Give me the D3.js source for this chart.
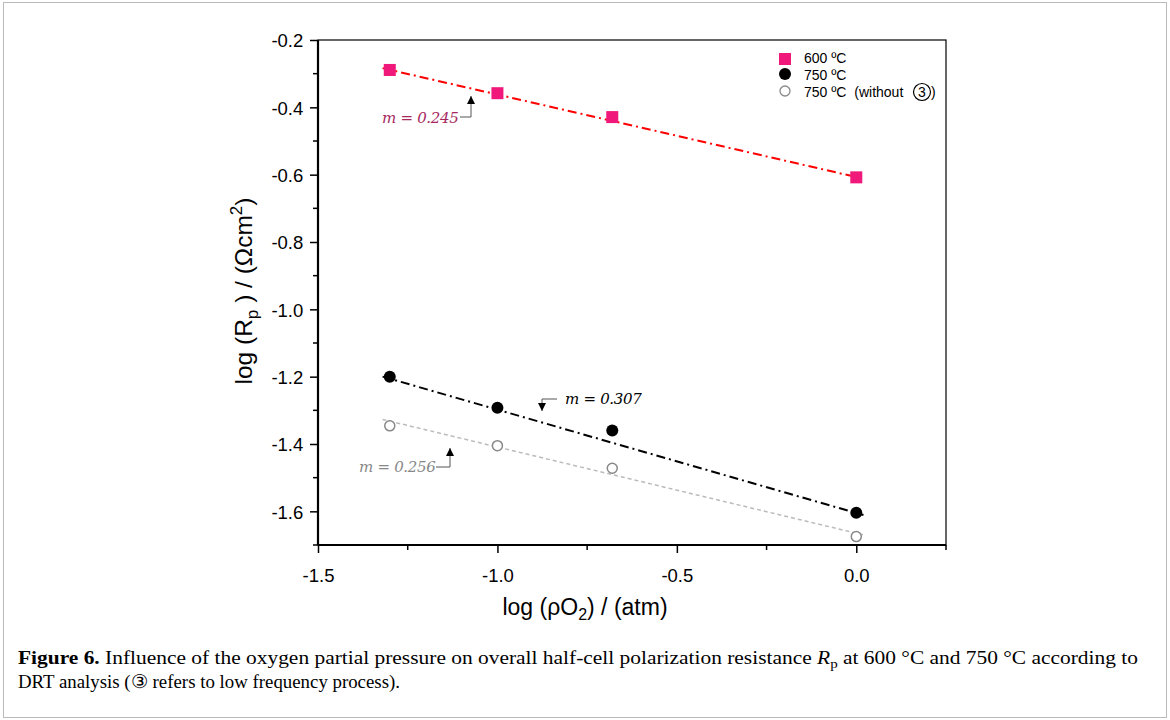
<!DOCTYPE html>
<html>
<head>
<meta charset="utf-8">
<script src="https://cdn.jsdelivr.net/npm/d3@7"></script>
<style>
  body { margin: 0; background: #fff; }
  svg { display: block; }
</style>
</head>
<body>
<svg id="chart" width="1170" height="720"></svg>
<script>
// data
const logPO2 = [-1.3, -1.0, -0.68, 0.0];
const rp600 = [-0.289, -0.358, -0.429, -0.608];
const rp750 = [-1.200, -1.292, -1.360, -1.604];
const rp750w = [-1.346, -1.405, -1.472, -1.675];
// fitted lines: slope, intercept
const fit600 = [-0.245, -0.607];
const fit750 = [-0.307, -1.605];
const fit750w = [-0.256, -1.665];
const xTicks = [-1.5, -1.0, -0.5, 0.0];
const yTicks = [-0.2, -0.4, -0.6, -0.8, -1.0, -1.2, -1.4, -1.6];
const xMinor = [-1.25, -0.75, -0.25, 0.25];
const yMinor = [-1.7, -1.5, -1.3, -1.1, -0.9, -0.7, -0.5, -0.3];

const svg = d3.select('#chart');
const W = 1170, H = 720;
const pLeft = 318, pRight = 946, pTop = 40, pBottom = 545;

svg.append('rect').attr('x', 3.5).attr('y', 2.5).attr('width', W - 7).attr('height', H - 5)
  .attr('fill', 'none').attr('stroke', '#bbb').attr('stroke-width', 1);

const x = d3.scaleLinear().domain([-1.5, 0.25]).range([pLeft, pRight]);
const y = d3.scaleLinear().domain([-1.7, -0.2]).range([pBottom, pTop]);

const fmt = d => d.toFixed(1);   // plain hyphen minus like the original
const xAxis = d3.axisBottom(x).tickValues(xTicks).tickFormat(fmt).tickSize(8).tickSizeOuter(0);
const yAxis = d3.axisLeft(y).tickValues(yTicks).tickFormat(fmt).tickSize(8).tickSizeOuter(0);

const customAxis = (g) => {
  g.select('.domain').remove();
  g.selectAll('.tick line').attr('stroke', '#000').attr('stroke-width', 1.5);
  g.selectAll('.tick text').attr('font-family', 'Liberation Sans, Arial, sans-serif')
    .attr('font-size', 18.5).attr('fill', '#000');
};

svg.append('g').attr('transform', `translate(0,${pBottom})`).call(xAxis).call(customAxis)
  .selectAll('.tick text').attr('dy', '1.4em');
svg.append('g').attr('transform', `translate(${pLeft},0)`).call(yAxis).call(customAxis)
  .selectAll('.tick text').attr('dx', '-0.2em').attr('dy', '0.36em');

// minor ticks
svg.append('g').selectAll('line').data(xMinor).join('line')
  .attr('x1', d => x(d)).attr('x2', d => x(d)).attr('y1', pBottom).attr('y2', pBottom + 5)
  .attr('stroke', '#000').attr('stroke-width', 1.5);
svg.append('g').selectAll('line').data(yMinor).join('line')
  .attr('x1', pLeft - 5).attr('x2', pLeft).attr('y1', d => y(d)).attr('y2', d => y(d))
  .attr('stroke', '#000').attr('stroke-width', 1.5);

// frame
svg.append('rect').attr('x', pLeft).attr('y', pTop).attr('width', pRight - pLeft).attr('height', pBottom - pTop)
  .attr('fill', 'none').attr('stroke', '#000').attr('stroke-width', 1.2);
svg.append('line').attr('x1', pLeft).attr('x2', pLeft).attr('y1', pTop).attr('y2', pBottom)
  .attr('stroke', '#000').attr('stroke-width', 2.2);
svg.append('line').attr('x1', pLeft).attr('x2', pRight).attr('y1', pBottom).attr('y2', pBottom)
  .attr('stroke', '#000').attr('stroke-width', 2.2);

// fit lines
const lineX = [-1.32, 0.02];
const line = d3.line().x(d => x(d[0])).y(d => y(d[1]));
function drawFit(fit, color, dash, width) {
  svg.append('path')
    .datum(lineX.map(v => [v, fit[0] * v + fit[1]]))
    .attr('d', line).attr('fill', 'none').attr('stroke', color)
    .attr('stroke-width', width).attr('stroke-dasharray', dash);
}
drawFit(fit600, '#ff0000', '9,4,2,4', 2);
drawFit(fit750, '#000', '9,4,2,4', 2);
drawFit(fit750w, '#bbb', '4,3', 1.5);

// markers
svg.append('g').selectAll('rect').data(logPO2).join('rect')
  .attr('x', d => x(d) - 6).attr('y', (d, i) => y(rp600[i]) - 6)
  .attr('width', 12).attr('height', 12).attr('fill', '#f0187a');
svg.append('g').selectAll('circle').data(logPO2).join('circle')
  .attr('cx', d => x(d)).attr('cy', (d, i) => y(rp750[i])).attr('r', 6).attr('fill', '#000');
svg.append('g').selectAll('circle').data(logPO2).join('circle')
  .attr('cx', d => x(d)).attr('cy', (d, i) => y(rp750w[i])).attr('r', 5)
  .attr('fill', '#fff').attr('stroke', '#888').attr('stroke-width', 1.5);

// slope annotations
svg.append('defs').append('marker').attr('id', 'arr').attr('viewBox', '0 0 10 10')
  .attr('refX', 10).attr('refY', 5).attr('markerWidth', 8).attr('markerHeight', 8)
  .attr('orient', 'auto').attr('markerUnits', 'userSpaceOnUse')
  .append('path').attr('d', 'M0,0 L10,5 L0,10 z').attr('fill', '#000');

function note(txt, tx, ty, color, pts) {
  svg.append('text').attr('x', tx).attr('y', ty).text(txt)
    .attr('font-family', 'DejaVu Serif, serif').attr('font-style', 'italic')
    .attr('font-size', 15).attr('fill', color).attr('letter-spacing', -0.3);
  svg.append('polyline').attr('points', pts.map(p => p.join(',')).join(' '))
    .attr('fill', 'none').attr('stroke', '#555').attr('stroke-width', 1)
    .attr('marker-end', 'url(#arr)');
}
note('m = 0.245', 382, 123, '#a8285e', [[460, 117], [471, 117], [471, 96]]);
note('m = 0.307', 565, 404, '#000', [[557, 399], [542, 399], [542, 411]]);
note('m = 0.256', 359, 472, '#888', [[436, 467], [450, 467], [450, 448]]);

// legend
const lg = svg.append('g').attr('font-family', 'Liberation Sans, Arial, sans-serif').attr('font-size', 14);
lg.append('rect').attr('x', 779).attr('y', 53).attr('width', 12).attr('height', 12).attr('fill', '#f0187a');
lg.append('circle').attr('cx', 785).attr('cy', 74).attr('r', 6).attr('fill', '#000');
lg.append('circle').attr('cx', 785).attr('cy', 91).attr('r', 5).attr('fill', '#fff').attr('stroke', '#888').attr('stroke-width', 1.3);
lg.append('text').attr('x', 804).attr('y', 63).text('600 ºC');
lg.append('text').attr('x', 804).attr('y', 80).text('750 ºC');
lg.append('text').attr('x', 804).attr('y', 97).text('750 ºC\u00a0 (without');
lg.append('circle').attr('cx', 922).attr('cy', 92).attr('r', 8.5).attr('fill', 'none').attr('stroke', '#000').attr('stroke-width', 1.2);
lg.append('text').attr('x', 922).attr('y', 97).attr('text-anchor', 'middle').text('3');
lg.append('text').attr('x', 931).attr('y', 97).text(')');

// axis titles
const xt = svg.append('text').attr('x', 585).attr('y', 615).attr('text-anchor', 'middle')
  .attr('font-family', 'Liberation Sans, Arial, sans-serif').attr('font-size', 23);
xt.append('tspan').text('log (ρO');
xt.append('tspan').text('2').attr('font-size', 16).attr('dy', 5);
xt.append('tspan').text(') / (atm)').attr('dy', -5);

const yt = svg.append('text').attr('transform', `translate(252,291) rotate(-90)`).attr('text-anchor', 'middle')
  .attr('font-family', 'Liberation Sans, Arial, sans-serif').attr('font-size', 24.5);
yt.append('tspan').text('log (R');
yt.append('tspan').text('p').attr('font-size', 17).attr('dy', 6);
yt.append('tspan').text('\u00a0) / (Ωcm').attr('dy', -6);
yt.append('tspan').text('2').attr('font-size', 17).attr('dy', -10);
yt.append('tspan').text(')').attr('dy', 10);

// caption
const cap = svg.append('g').attr('font-family', 'Liberation Serif, serif').attr('font-size', 18.5);
const c1 = cap.append('text').attr('x', 18).attr('y', 664).attr('textLength', 1120).attr('lengthAdjust', 'spacingAndGlyphs');
c1.append('tspan').text('Figure 6.').attr('font-weight', 'bold');
c1.append('tspan').text(' Influence of the oxygen partial pressure on overall half-cell polarization resistance ');
c1.append('tspan').text('R').attr('font-style', 'italic');
c1.append('tspan').text('p').attr('font-size', 13).attr('dy', 4);
c1.append('tspan').text(' at 600 °C and 750 °C according to').attr('dy', -4);
cap.append('text').attr('x', 18).attr('y', 688).attr('textLength', 382).attr('lengthAdjust', 'spacingAndGlyphs')
  .text('DRT analysis (③ refers to low frequency process).');
</script>
</body>
</html>
